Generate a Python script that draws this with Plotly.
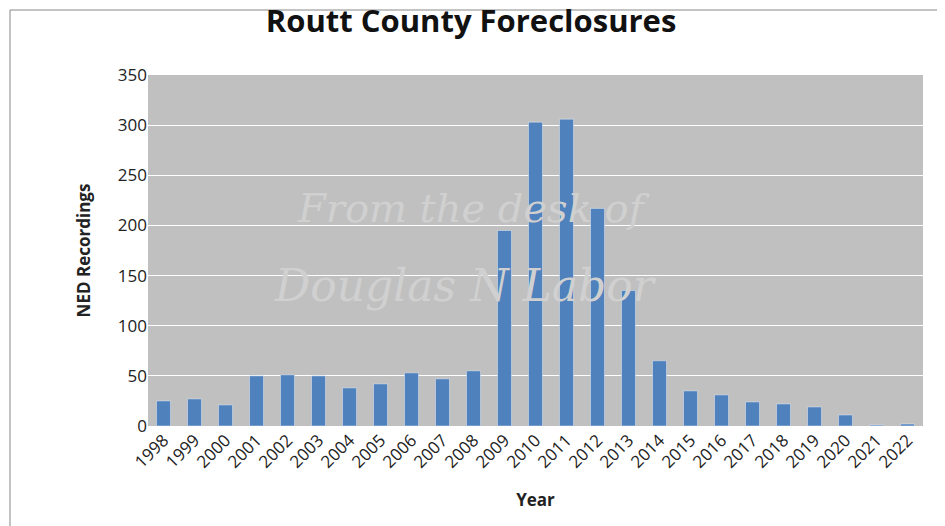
import plotly.graph_objects as go

years = [str(y) for y in range(1998, 2023)]
recordings = [25, 27, 21, 50, 51, 50, 38, 42, 53, 47, 55, 195, 303, 306, 217, 135, 65, 35, 31, 24, 22, 19, 11, 1, 2]

fig = go.Figure(go.Bar(x=years, y=recordings, marker_color="#4f81bd", width=0.45))

fig.update_layout(
    width=945, height=526,
    paper_bgcolor="white", plot_bgcolor="#c0c0c0",
    margin=dict(l=140, r=30, t=67, b=108, autoexpand=False),
    font=dict(family="Open Sans", color="#222", size=16),
    title=dict(text="<b>Routt County Foreclosures</b>", x=0.49, xanchor="center",
               y=0.995, yanchor="top", font=dict(size=31, color="#111")),
    showlegend=False,
    shapes=[dict(type="rect", xref="paper", yref="paper", x0=-138/775, x1=803/775,
                 y0=-106/351, y1=416/351, line=dict(color="#888", width=1))],
    annotations=[
        dict(text="<i>From the desk of</i>", x=0.42, y=0.62, xref="paper", yref="paper", showarrow=False,
             font=dict(family="DejaVu Serif", size=40, color="#d0d0d0")),
        dict(text="<i>Douglas N Labor</i>", x=0.41, y=0.4, xref="paper", yref="paper", showarrow=False,
             font=dict(family="DejaVu Serif", size=44, color="#d0d0d0")),
    ],
)
fig.update_xaxes(title=dict(text="<b>Year</b>", font=dict(size=17), standoff=22),
                 tickangle=-45, tickfont=dict(size=17), showline=False, automargin=False)
fig.update_yaxes(title=dict(text="<b>NED Recordings</b>", font=dict(size=17), standoff=22),
                 range=[0, 350], dtick=50, gridcolor="white", gridwidth=1,
                 tickfont=dict(size=17), zeroline=False, automargin=False)

fig.write_html("out.html")
